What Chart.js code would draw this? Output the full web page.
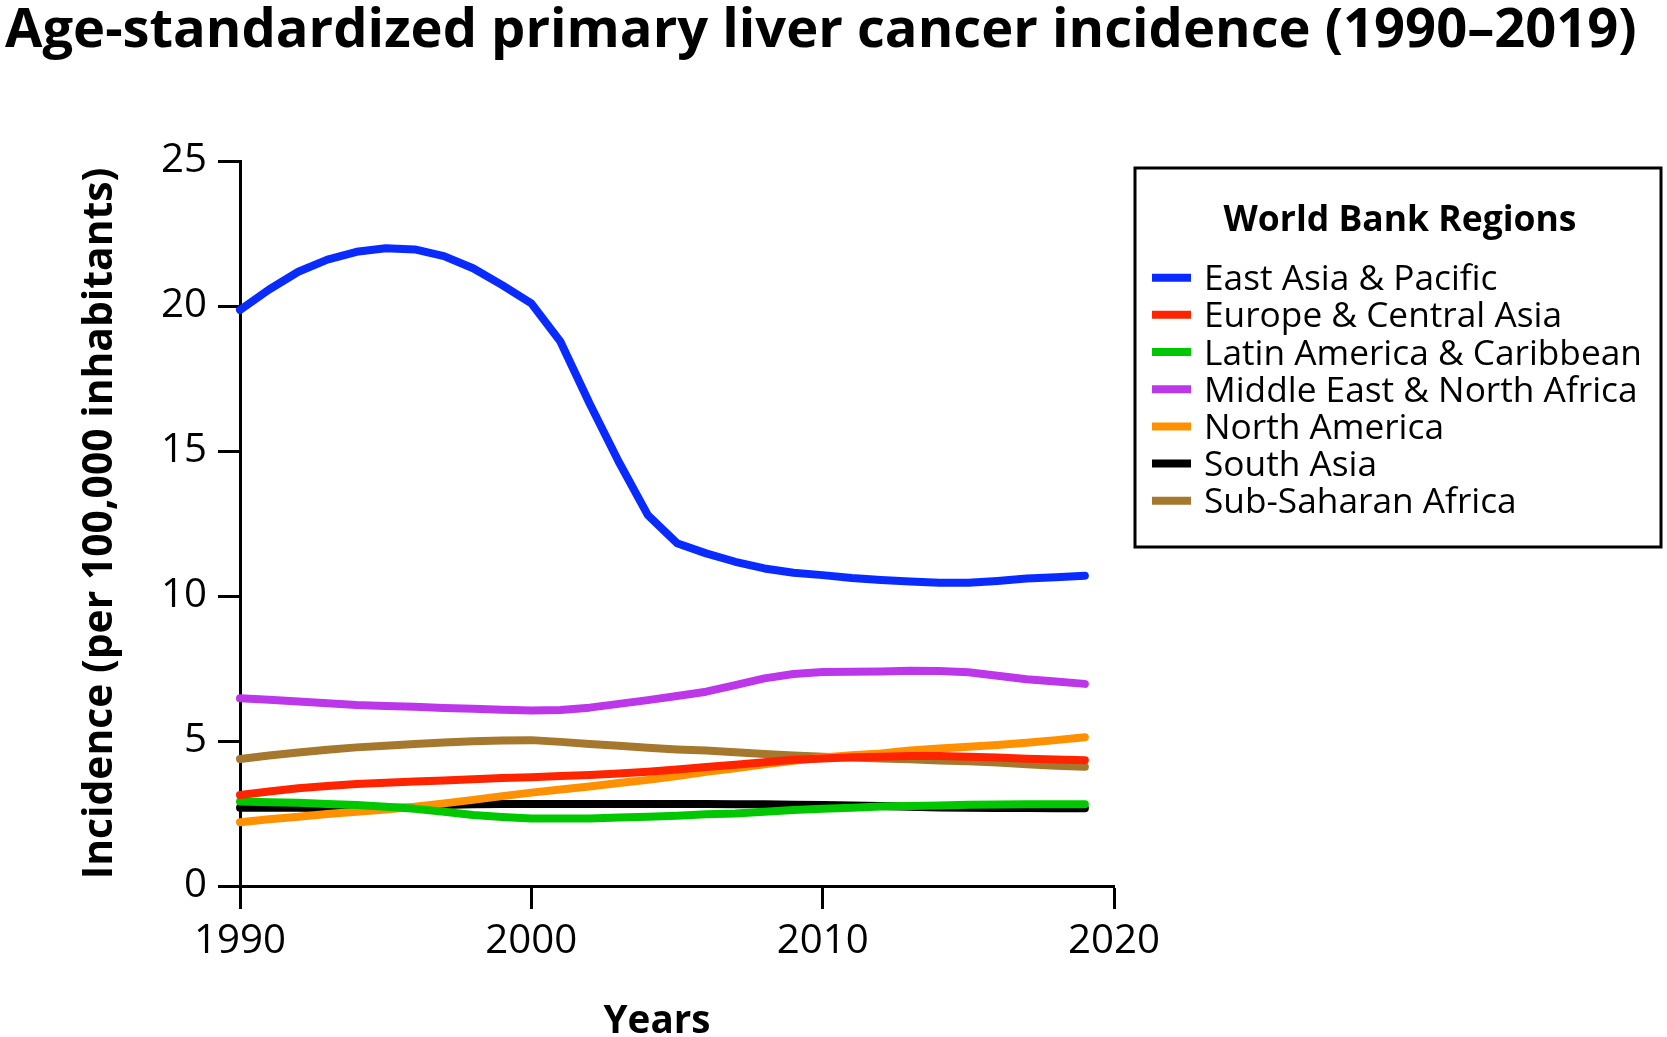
<!DOCTYPE html>
<html>
<head>
<meta charset="utf-8">
<script src="https://cdn.jsdelivr.net/npm/chart.js@4.4.1/dist/chart.umd.min.js"></script>
<style>
html,body{margin:0;padding:0;background:#fff;}
#wrap{width:1667px;height:1037px;position:relative;}
</style>
</head>
<body>
<div id="wrap"><canvas id="c" width="1667" height="1037"></canvas></div>
<script>
// ---------- DATA ----------
const chartTitle = 'Age-standardized primary liver cancer incidence (1990\u20132019)';
const xAxisTitle = 'Years';
const yAxisTitle = 'Incidence (per 100,000 inhabitants)';
const legendTitle = 'World Bank Regions';

const years = [1990,1991,1992,1993,1994,1995,1996,1997,1998,1999,
               2000,2001,2002,2003,2004,2005,2006,2007,2008,2009,
               2010,2011,2012,2013,2014,2015,2016,2017,2018,2019];

const xTickValues = [1990, 2000, 2010, 2020];
const xTickLabels = ['1990', '2000', '2010', '2020'];
const yTickValues = [0, 5, 10, 15, 20, 25];
const yTickLabels = ['0', '5', '10', '15', '20', '25'];

const regionNames = [
  'East Asia & Pacific',
  'Europe & Central Asia',
  'Latin America & Caribbean',
  'Middle East & North Africa',
  'North America',
  'South Asia',
  'Sub-Saharan Africa'
];

const eastAsiaPacific = [19.86,20.57,21.18,21.60,21.87,21.99,21.95,21.72,21.30,20.72,
                         20.09,18.77,16.64,14.63,12.79,11.82,11.47,11.18,10.95,10.80,
                         10.72,10.62,10.55,10.50,10.46,10.46,10.52,10.60,10.65,10.70];
const europeCentralAsia = [3.14,3.26,3.37,3.45,3.52,3.56,3.60,3.64,3.68,3.72,
                           3.75,3.79,3.83,3.88,3.94,4.02,4.10,4.18,4.27,4.35,
                           4.40,4.44,4.46,4.48,4.48,4.46,4.43,4.39,4.36,4.34];
const latinAmericaCaribbean = [2.91,2.89,2.87,2.83,2.79,2.73,2.66,2.56,2.45,2.38,
                               2.33,2.33,2.33,2.36,2.39,2.42,2.47,2.50,2.56,2.62,
                               2.66,2.70,2.74,2.76,2.78,2.80,2.81,2.82,2.82,2.82];
const middleEastNorthAfrica = [6.47,6.42,6.36,6.30,6.24,6.21,6.18,6.14,6.11,6.08,
                               6.05,6.07,6.15,6.28,6.41,6.55,6.70,6.93,7.16,7.31,
                               7.38,7.39,7.40,7.42,7.41,7.37,7.25,7.13,7.05,6.97];
const northAmerica = [2.20,2.30,2.39,2.48,2.56,2.64,2.73,2.85,2.97,3.10,
                      3.22,3.33,3.43,3.55,3.66,3.79,3.94,4.06,4.20,4.32,
                      4.43,4.51,4.57,4.67,4.74,4.80,4.86,4.94,5.03,5.13];
const southAsia = [2.70,2.70,2.70,2.69,2.69,2.70,2.70,2.79,2.82,2.83,
                   2.83,2.83,2.83,2.83,2.83,2.83,2.83,2.82,2.82,2.80,
                   2.79,2.78,2.76,2.73,2.71,2.70,2.69,2.69,2.68,2.68];
const subSaharanAfrica = [4.38,4.50,4.60,4.70,4.78,4.84,4.90,4.95,4.99,5.02,
                          5.03,4.97,4.90,4.84,4.77,4.71,4.67,4.61,4.55,4.50,
                          4.46,4.43,4.40,4.37,4.33,4.30,4.26,4.20,4.15,4.11];

const seriesValues = [eastAsiaPacific, europeCentralAsia, latinAmericaCaribbean,
                      middleEastNorthAfrica, northAmerica, southAsia, subSaharanAfrica];

// ---------- STYLE ----------
const seriesColors = ['#0a2bff', '#ff2400', '#00c800', '#bd37ea', '#ff9100', '#000000', '#a5782d'];
const FAMILY = "'Open Sans', sans-serif";

function fitSize(text, weight, targetWidth) {
  const ctx = document.createElement('canvas').getContext('2d');
  ctx.font = weight + ' 100px ' + FAMILY;
  return 100 * targetWidth / ctx.measureText(text).width;
}

const titleSize = fitSize(chartTitle, 'bold', 1632);
const yTitleSize = fitSize(yAxisTitle, 'bold', 712);
const xTitleSize = fitSize(xAxisTitle, 'bold', 107);
const tickSize = fitSize('1990', 'normal', 92);
const legTitleSize = fitSize(legendTitle, 'bold', 353);
const legItemSize = fitSize('Latin America & Caribbean', 'normal', 438);

const datasets = regionNames.map((name, i) => ({
  label: name,
  data: years.map((y, j) => ({x: y, y: seriesValues[i][j]})),
  borderColor: seriesColors[i],
  backgroundColor: seriesColors[i],
  borderWidth: 8,
  pointRadius: 0,
  pointHoverRadius: 0,
  tension: 0,
  borderCapStyle: 'round',
  borderJoinStyle: 'round',
  fill: false,
  clip: false
}));

const headerAndLegend = {
  id: 'headerAndLegend',
  afterDraw(chart) {
    const ctx = chart.ctx;
    ctx.save();
    // main title
    ctx.fillStyle = '#000';
    ctx.font = 'bold ' + titleSize + 'px ' + FAMILY;
    ctx.textAlign = 'left';
    ctx.textBaseline = 'alphabetic';
    ctx.fillText(chartTitle, 5, 47);
    // x axis title
    ctx.font = 'bold ' + xTitleSize + 'px ' + FAMILY;
    ctx.textAlign = 'center';
    ctx.fillText(xAxisTitle, 657, 1033);
    // legend box
    ctx.strokeStyle = '#000';
    ctx.lineWidth = 3;
    ctx.strokeRect(1135, 168, 526, 379);
    ctx.font = 'bold ' + legTitleSize + 'px ' + FAMILY;
    ctx.textAlign = 'center';
    ctx.fillText(legendTitle, 1400, 231);
    ctx.font = legItemSize + 'px ' + FAMILY;
    ctx.textAlign = 'left';
    chart.data.datasets.forEach((ds, i) => {
      const cy = 277.7 + i * 37.17;
      ctx.strokeStyle = ds.borderColor;
      ctx.lineWidth = 8;
      ctx.lineCap = 'butt';
      ctx.beginPath();
      ctx.moveTo(1152, cy);
      ctx.lineTo(1191, cy);
      ctx.stroke();
      ctx.fillStyle = '#000';
      ctx.fillText(ds.label, 1204, cy + 12.5);
    });
    ctx.restore();
  }
};

new Chart(document.getElementById('c'), {
  type: 'line',
  data: { datasets },
  plugins: [headerAndLegend],
  options: {
    responsive: false,
    animation: false,
    devicePixelRatio: 1,
    layout: { padding: { left: 10, right: 1667 - 1114, top: 161, bottom: 0 } },
    plugins: {
      legend: { display: false },
      tooltip: { enabled: false },
      title: { display: false }
    },
    scales: {
      x: {
        type: 'linear',
        min: 1990,
        max: 2020,
        afterBuildTicks: s => { s.ticks = xTickValues.map(v => ({ value: v })); },
        afterFit: s => { s.height = 151; },
        ticks: {
          color: '#000',
          padding: 8,
          maxRotation: 0,
          font: { family: FAMILY, size: tickSize },
          callback: v => xTickLabels[xTickValues.indexOf(v)]
        },
        grid: { drawOnChartArea: false, drawTicks: true, tickLength: 23, tickWidth: 3, tickColor: '#000' },
        border: { display: true, color: '#000', width: 3 },
        title: { display: false }
      },
      y: {
        type: 'linear',
        min: 0,
        max: 25,
        afterBuildTicks: s => { s.ticks = yTickValues.map(v => ({ value: v })); },
        afterFit: s => { s.width = 230; },
        ticks: {
          color: '#000',
          padding: 11,
          font: { family: FAMILY, size: tickSize },
          callback: v => yTickLabels[yTickValues.indexOf(v)]
        },
        grid: { drawOnChartArea: false, drawTicks: true, tickLength: 22, tickWidth: 3, tickColor: '#000' },
        border: { display: true, color: '#000', width: 3 },
        title: {
          display: true,
          text: yAxisTitle,
          color: '#000',
          font: { family: FAMILY, weight: 'bold', size: yTitleSize, lineHeight: 1 },
          padding: { top: 90 - yTitleSize / 2, bottom: 0 }
        }
      }
    }
  }
});
</script>
</body>
</html>
